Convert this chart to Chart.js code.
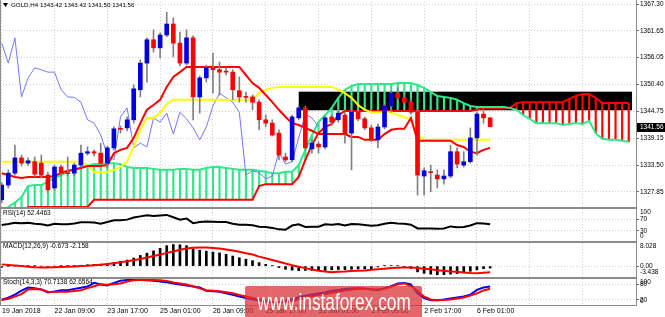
<!DOCTYPE html>
<html lang="en">
<head>
<meta charset="UTF-8">
<title>GOLD,H4</title>
<script src="https://cdn.jsdelivr.net/npm/chart.js"></script>
<style>
    body { margin: 0; background: #fff; }
    #wrap { position: relative; width: 665px; height: 317px; overflow: hidden; font-family: "Liberation Sans", Arial, sans-serif; }
    #wrap canvas { position: absolute; left: 0; top: 0; }
    .ln { position: absolute; background: #8c8c8c; }
    #wm { position: absolute; left: 245px; top: 286px; width: 177px; height: 34px; background: rgba(214, 50, 55, 0.74);
          border-radius: 2px; overflow: hidden; }
    #wm span { position: absolute; left: 50%; top: 2px; color: #fff; font-size: 24px; line-height: 28px; white-space: nowrap;
               transform: translateX(-50%) scaleX(0.72); }
</style>
</head>
<body>
<div id="wrap">
    <canvas id="cMain" width="665" height="317"></canvas>
    <canvas id="cRsi" width="665" height="317"></canvas>
    <canvas id="cMacd" width="665" height="317"></canvas>
    <canvas id="cStoch" width="665" height="317"></canvas>
    <div class="ln" style="left:0;top:0;width:1px;height:306px"></div>
    <div class="ln" style="left:636px;top:0;width:1px;height:306px"></div>
    <div class="ln" style="left:0;top:207px;width:637px;height:2px"></div>
    <div class="ln" style="left:0;top:241px;width:637px;height:2px"></div>
    <div class="ln" style="left:0;top:277px;width:637px;height:2px"></div>
    <div class="ln" style="left:0;top:305px;width:637px;height:1px"></div>
    <div id="wm"><span>www.instaforex.com</span></div>
</div>
<script>
// ---- data (H4 bars, 19 Jan 2018 01:00 .. 6 Feb 2018 09:00) ----
const opens = [1326.2,1329.3,1331.8,1335.0,1333.9,1334.2,1333.9,1331.4,1328.7,1333.1,
    1331.8,1331.8,1333.5,1336.0,1336.3,1336.0,1333.9,1337.1,1341.1,1341.3,
    1343.0,1349.3,1354.9,1359.8,1358.1,1360.8,1363.1,1359.1,1354.9,1360.2,
    1347.8,1351.8,1353.9,1353.5,1353.2,1353.0,1349.1,1347.8,1347.8,1346.7,
    1343.0,1342.3,1340.2,1335.2,1334.6,1343.4,1345.5,1336.9,1337.9,1337.3,
    1343.6,1343.0,1344.0,1340.2,1344.6,1343.2,1341.3,1338.8,1341.5,1345.9,
    1348.6,1347.6,1346.7,1344.6,1331.2,1332.0,1331.4,1330.6,1331.2,1336.3,
    1333.5,1334.2,1339.2,1344.2,1343.42];
const highs = [1329.8,1332.5,1337.7,1335.6,1335.0,1335.2,1335.6,1332.0,1333.5,1333.5,
    1335.2,1333.9,1337.7,1337.3,1336.7,1338.1,1337.5,1341.5,1341.7,1343.6,
    1350.3,1355.6,1360.2,1361.9,1361.2,1365.6,1364.4,1361.4,1361.9,1360.6,
    1352.2,1354.5,1357.0,1355.1,1353.9,1353.5,1352.0,1348.8,1348.2,1347.2,
    1344.0,1343.0,1340.9,1336.0,1344.0,1345.9,1345.9,1338.8,1338.4,1343.8,
    1344.0,1345.1,1344.6,1345.1,1345.1,1343.6,1341.9,1342.1,1346.3,1349.1,
    1349.7,1348.2,1347.4,1345.1,1332.9,1333.5,1332.5,1332.5,1337.7,1337.1,
    1336.3,1341.3,1344.6,1345.3,1343.42];
const lows = [1325.6,1328.7,1331.4,1333.3,1333.5,1331.0,1330.8,1327.7,1328.3,1331.2,
    1331.2,1331.2,1333.1,1335.6,1335.4,1333.5,1332.9,1336.7,1340.2,1340.7,
    1342.3,1347.8,1350.9,1357.2,1356.0,1360.4,1356.2,1354.3,1354.5,1343.0,
    1344.4,1350.9,1348.6,1348.2,1352.4,1347.2,1346.7,1346.7,1345.1,1340.9,
    1341.5,1339.6,1334.6,1334.2,1334.2,1343.0,1336.7,1336.0,1336.0,1336.9,
    1341.9,1342.5,1338.1,1332.5,1342.8,1340.9,1338.4,1337.1,1341.1,1344.6,
    1347.2,1346.3,1344.2,1327.2,1327.2,1327.9,1328.7,1329.5,1330.8,1332.9,
    1333.1,1333.9,1335.6,1342.3,1341.50];
const closes = [1329.3,1331.8,1335.0,1333.9,1334.4,1331.6,1331.4,1328.3,1333.1,1331.8,
    1331.7,1333.5,1336.0,1336.3,1336.0,1333.9,1337.1,1341.1,1341.0,1343.0,
    1349.5,1354.9,1359.8,1358.1,1360.8,1363.1,1359.1,1354.9,1360.2,1347.8,
    1351.8,1353.9,1353.5,1353.0,1353.0,1349.3,1347.8,1347.7,1346.7,1343.0,
    1342.3,1339.8,1335.6,1334.6,1343.6,1345.5,1337.1,1338.1,1337.3,1343.4,
    1342.5,1344.4,1340.0,1344.6,1343.2,1341.3,1338.8,1341.5,1345.9,1348.6,
    1347.6,1346.7,1344.6,1331.4,1332.3,1331.9,1330.6,1331.2,1336.3,1333.7,
    1334.2,1339.2,1344.2,1343.4,1341.56];

// Ichimoku (9,26,52) lines
const tenkan = [1331.8,1331.4,1331.0,1330.8,1331.0,1331.0,1331.0,1331.0,1331.2,1331.8,
    1332.3,1332.5,1332.9,1333.3,1333.3,1333.3,1333.5,1336.0,1336.7,1337.1,
    1339.2,1342.3,1345.1,1346.1,1347.2,1349.9,1352.0,1353.0,1354.1,1354.1,
    1354.1,1354.1,1354.1,1354.1,1354.1,1354.1,1354.1,1352.4,1350.7,1349.7,
    1348.2,1346.7,1345.1,1343.6,1342.3,1341.9,1341.3,1340.7,1340.0,1340.0,
    1340.0,1340.0,1340.0,1339.4,1339.4,1338.8,1338.8,1338.8,1340.0,1340.9,
    1341.1,1341.1,1343.4,1338.6,1338.6,1338.6,1338.6,1338.6,1338.6,1337.7,
    1337.3,1336.3,1336.0,1336.7,1337.1];
const kijun = [1334.2,1334.2,1334.2,1334.2,1334.2,1334.2,1334.2,1334.2,1334.2,1334.2,
    1334.2,1334.2,1334.2,1333.5,1332.0,1332.0,1332.0,1332.5,1333.1,1334.2,
    1337.3,1340.9,1343.4,1343.4,1344.4,1346.3,1347.2,1347.2,1347.2,1347.2,
    1347.2,1347.2,1347.2,1347.2,1347.2,1347.2,1347.2,1347.2,1347.2,1348.6,
    1349.3,1349.7,1349.9,1349.9,1349.9,1349.9,1349.9,1349.9,1349.9,1349.9,
    1349.9,1349.3,1348.6,1347.6,1346.1,1345.1,1344.6,1344.6,1344.6,1344.6,
    1344.0,1343.6,1343.0,1339.8,1338.8,1338.8,1338.8,1338.8,1338.8,1338.8,
    1338.8,1338.8,1338.8,1338.8,1338.8];
const spanA = [1323.7,1324.7,1325.6,1326.8,1329.1,1329.3,1329.3,1330.0,1330.8,1331.4,
    1332.1,1332.5,1333.1,1333.3,1333.7,1333.7,1333.9,1333.9,1333.7,1333.1,
    1332.9,1332.9,1332.9,1332.7,1332.5,1332.5,1332.5,1332.7,1332.7,1332.5,
    1332.5,1332.9,1333.1,1333.1,1332.9,1332.7,1332.5,1332.5,1332.5,1332.3,
    1332.1,1331.8,1331.8,1332.1,1332.1,1333.5,1336.7,1339.8,1342.5,1344.0,
    1345.5,1347.6,1349.3,1350.1,1350.5,1350.5,1350.5,1350.5,1350.5,1350.5,
    1350.7,1350.7,1350.7,1350.3,1349.7,1348.8,1348.0,1347.8,1347.6,1347.2,
    1346.5,1345.9,1345.7,1345.7,1345.7,1345.7,1345.7,1345.5,1345.1,1344.0,
    1343.2,1342.3,1342.3,1342.3,1342.3,1341.9,1342.1,1342.3,1342.1,1342.8,
    1340.2,1339.0,1338.8,1338.8,1338.6,1338.4];
const spanB = [1323.0,1323.0,1323.0,1323.0,1324.7,1324.7,1324.7,1324.7,1324.7,1324.7,
    1324.7,1324.7,1324.7,1324.7,1326.2,1326.2,1326.2,1326.2,1326.2,1326.2,
    1326.2,1326.2,1326.2,1326.2,1326.2,1326.2,1326.2,1326.2,1326.2,1326.2,
    1326.2,1326.2,1326.2,1326.2,1326.2,1326.2,1326.2,1326.2,1326.2,1329.1,
    1329.5,1329.5,1329.5,1329.5,1329.5,1331.0,1334.6,1337.7,1340.2,1341.5,
    1342.1,1344.0,1344.85,1344.85,1344.85,1344.85,1344.85,1344.85,1344.85,1344.85,
    1344.85,1344.85,1344.85,1344.85,1344.85,1344.85,1344.85,1344.85,1344.85,1344.85,
    1344.85,1344.85,1345.1,1345.5,1345.5,1345.5,1345.5,1345.5,1346.5,1346.7,
    1346.7,1346.7,1346.7,1346.7,1346.7,1346.7,1347.4,1348.0,1348.4,1348.4,
    1347.6,1346.5,1346.5,1346.5,1346.5,1346.5];

const rsi = [50,53,57,56,57,54,52,48,54,52, 52,55,59,59,58,54,60,66,66,68,
    75,79,83,80,82,84,76,68,72,56, 60,62,61,60,60,54,51,51,49,44,
    43,40,35,34,48,52,43,44,44,52, 51,53,48,53,52,50,47,49,54,57,
    55,54,51,38,38,38,37,38,45,42, 43,48,56,55,52.4463];
const macdMain = [-0.4,-0.2,0.05,0.1,0.1,0.05,0.0,-0.1,0.0,0.05, 0.1,0.2,0.3,0.5,0.6,0.7,0.9,1.3,1.7,2.1,
    2.8,3.7,4.5,5.3,6.2,7.1,7.5,7.4,7.1,6.0, 5.5,5.2,4.9,4.6,4.1,3.5,2.9,2.4,1.9,1.2,
    0.6,0.1,-0.5,-1.1,-1.4,-1.6,-1.5,-1.5,-1.6,-1.5, -1.3,-1.2,-1.2,-1.1,-1.0,-1.0,-0.9,-0.3,0.1,0.2,
    0.1,-0.2,-0.8,-2.0,-2.5,-2.8,-3.0,-3.0,-2.8,-2.6, -2.3,-1.8,-1.3,-0.9,-0.673];
const macdSignal = [0.6,0.4,0.2,0.0,-0.2,-0.4,-0.45,-0.45,-0.4,-0.3, -0.2,-0.1,0.0,0.1,0.3,0.45,0.7,1.0,1.3,1.7,
    2.0,2.5,3.0,3.5,4.0,4.6,5.1,5.7,6.1,6.4, 6.5,6.5,6.3,6.1,5.8,5.4,5.0,4.5,4.0,3.3,
    2.7,2.1,1.5,0.9,0.3,-0.2,-0.7,-1.2,-1.6,-1.9, -2.1,-2.0,-1.9,-1.7,-1.6,-1.5,-1.3,-1.1,-0.9,-0.7,
    -0.55,-0.45,-0.5,-0.7,-0.9,-1.1,-1.4,-1.6,-1.9,-2.0, -2.2,-2.4,-2.5,-2.35,-2.158];
const stochMain = [20,28,40,55,67,64,60,48,52,57, 57,62,66,71,85,79,75,85,93,96,
    96,96,95,93,90,87,83,79,75,71, 67,55,53,51,45,39,33,27,22,17,
    12,10,12,16,22,30,36,40,44,48, 55,58,62,63,64,63,60,57,65,72,
    83,85,79,45,27,18,18,21,25,29, 33,40,58,67,70.7138];
const stochSignal = [19,24,32,42,60,62,60,51,50,51, 51,54,57,65,72,80,78,80,83,90,
    95,96,96,96,95,92,87,83,79,72, 64,57,55,53,49,45,39,33,27,22,
    17,13,11,12,15,22,28,34,38,42, 46,52,56,60,62,62,61,60,62,70,
    80,83,72,55,32,21,18,19,21,25, 29,36,45,56,62.6564];

const priceTicks = [1367.30, 1361.65, 1356.05, 1350.40, 1344.75, 1339.15, 1333.50, 1327.85];
const dateBars = [0, 8, 16, 24, 32, 40, 48, 56, 64, 72];
const dateLabels = ['19 Jan 2018', '22 Jan 09:00', '23 Jan 17:00', '25 Jan 01:00', '26 Jan 09:00',
    '29 Jan 17:00', '31 Jan 01:00', '1 Feb 09:00', '2 Feb 17:00', '6 Feb 01:00'];
// resistance box drawn on the chart
const zoneFrom = 45, zoneTo = 95.5, zoneTop = 1348.9, zoneBottom = 1345.0;

// ---- styling / layout ----
const H = 317;
const X_MIN = -0.26, X_MAX = 96.1;
const FONT = '6.5px "Liberation Sans", Arial, sans-serif';
const GRID = '#cfcfcf';
const BULL = '#0000e0', BEAR = '#ff0000', WICK = '#808080';
const gridBars = [0, 8, 16, 24, 32, 40, 48, 56, 64, 72, 80, 88];
const idx = a => a.map((v, i) => ({ x: i, y: v }));

function line(data, color, width, order) {
    return { type: 'line', data: data, borderColor: color, borderWidth: width, pointRadius: 0,
             tension: 0, fill: false, order: order };
}

function rightLabels(vals, fmt, topPad, botPad) {
    return {
        id: 'rightLabels',
        afterDraw(chart) {
            const ctx = chart.ctx, ys = chart.scales.y, a = chart.chartArea;
            ctx.save();
            ctx.font = FONT; ctx.fillStyle = '#000'; ctx.textAlign = 'left'; ctx.textBaseline = 'middle';
            vals.forEach(v => {
                let y = ys.getPixelForValue(v);
                y = Math.min(Math.max(y, a.top + topPad), a.bottom - botPad);
                ctx.fillText(fmt(v), 640, y);
            });
            ctx.restore();
        }
    };
}

function caption(text, dy) {
    return {
        id: 'caption',
        afterDraw(chart) {
            const ctx = chart.ctx;
            ctx.save();
            ctx.font = FONT; ctx.fillStyle = '#000'; ctx.textBaseline = 'middle';
            ctx.fillText(text, 3, chart.chartArea.top + dy);
            ctx.restore();
        }
    };
}

function panel(id, top, bottom, yMin, yMax, yGrid, datasets, plugins) {
    return new Chart(document.getElementById(id), {
        type: 'bar',
        data: { datasets: datasets },
        options: {
            responsive: false,
            animation: false,
            events: [],
            layout: { padding: { top: top, bottom: H - bottom, left: 0, right: 0 } },
            plugins: { legend: { display: false }, tooltip: { enabled: false } },
            scales: {
                x: {
                    type: 'linear', bounds: 'data', offset: false, min: X_MIN, max: X_MAX,
                    ticks: { display: false },
                    grid: { color: GRID, drawTicks: false, offset: false },
                    border: { display: false, dash: [1, 2] },
                    afterBuildTicks: s => { s.ticks = gridBars.map(v => ({ value: v })); }
                },
                y: {
                    position: 'right', bounds: 'data', beginAtZero: false, min: yMin, max: yMax,
                    ticks: { display: false },
                    grid: { color: GRID, tickLength: 3, tickColor: '#707070' },
                    border: { display: false, dash: [1, 2] },
                    afterBuildTicks: s => { s.ticks = yGrid.map(v => ({ value: v })); },
                    afterFit: s => { s.width = 29; s.paddingTop = 0; s.paddingBottom = 0; }
                }
            }
        },
        plugins: plugins
    });
}

// ---- main price panel ----
const hatch = spanA.map((a, i) => ({ x: i, y: [a, spanB[i]] }));
const chikou = closes.slice(26).map((c, i) => ({ x: i, y: c }));
const bodies = opens.map((o, i) => ({ x: i, y: [o, closes[i]] }));
const wicks = highs.map((h, i) => ({ x: i, y: [lows[i], h] }));
const candleColor = c => closes[c.dataIndex] >= opens[c.dataIndex] ? BULL : BEAR;

const zonePlugin = {
    id: 'zone',
    beforeDatasetsDraw(chart) {
        const xs = chart.scales.x, ys = chart.scales.y, ctx = chart.ctx;
        const x1 = xs.getPixelForValue(zoneFrom), x2 = xs.getPixelForValue(zoneTo);
        const y1 = ys.getPixelForValue(zoneTop), y2 = ys.getPixelForValue(zoneBottom);
        ctx.save();
        ctx.fillStyle = '#000';
        ctx.fillRect(x1, y1, x2 - x1, y2 - y1);
        ctx.restore();
    }
};
const pricePlugin = {
    id: 'lastPrice',
    afterDraw(chart) {
        const ctx = chart.ctx, ys = chart.scales.y;
        const last = closes[closes.length - 1];
        const y = ys.getPixelForValue(last);
        ctx.save();
        ctx.fillStyle = '#000';
        ctx.fillRect(637, Math.round(y) - 4, 28, 9);
        ctx.font = FONT; ctx.fillStyle = '#fff'; ctx.textBaseline = 'middle';
        ctx.fillText(last.toFixed(2), 640, Math.round(y) + 0.5);
        // title line
        ctx.fillStyle = '#000';
        ctx.beginPath(); ctx.moveTo(3, 3); ctx.lineTo(8, 3); ctx.lineTo(5.5, 7); ctx.closePath(); ctx.fill();
        ctx.font = '6.2px "Liberation Sans", Arial, sans-serif';
        ctx.fillText('GOLD,H4 1343.42 1343.42 1341.50 1341.56', 11, 5.5);
        ctx.restore();
    }
};

panel('cMain', 2, 207, 1324.70, 1367.72, priceTicks, [
    { type: 'bar', data: bodies, backgroundColor: candleColor, barThickness: 4, grouped: false,
      minBarLength: 1, borderWidth: 0, order: 1 },
    { type: 'bar', data: wicks, backgroundColor: WICK, barThickness: 1, grouped: false, order: 2 },
    line(idx(tenkan), '#ff0000', 2, 3),
    line(idx(kijun), '#ffff00', 2, 4),
    line(chikou, '#7575ff', 1, 5),
    line(idx(spanA), '#2ee88a', 2, 6),
    line(idx(spanB), '#ff0000', 2, 7),
    { type: 'bar', data: hatch, barThickness: 1.5, grouped: false, borderWidth: 0, order: 8,
      backgroundColor: c => spanA[c.dataIndex] >= spanB[c.dataIndex] ? '#2ee88a' : '#ff0000' }
], [zonePlugin, rightLabels(priceTicks, v => v.toFixed(2), 2, 2), pricePlugin]);

// ---- RSI ----
panel('cRsi', 209, 240, -1, 104, [70, 30], [
    line(idx(rsi), '#000', 2, 1)
], [rightLabels([100, 70, 30, 0], v => String(v), 3, 4), caption('RSI(14) 52.4463', 4)]);

// ---- MACD ----
panel('cMacd', 243, 276, -3.438, 8.028, [0], [
    line(idx(macdSignal), '#ff0000', 2, 1),
    { type: 'bar', data: idx(macdMain), backgroundColor: '#000', barThickness: 2, grouped: false, order: 2 }
], [rightLabels([8.028, 0, -3.438], v => v === 0 ? '0.00' : v.toFixed(3), 3, 4),
    caption('MACD(12,26,9) -0.673 -2.158', 3)]);

// ---- Stochastic ----
const datePlugin = {
    id: 'dates',
    afterDraw(chart) {
        const ctx = chart.ctx, xs = chart.scales.x;
        ctx.save();
        ctx.font = '7px "Liberation Sans", Arial, sans-serif';
        ctx.fillStyle = '#000'; ctx.textAlign = 'left'; ctx.textBaseline = 'middle';
        dateBars.forEach((b, i) => {
            const x = xs.getPixelForValue(b);
            ctx.fillText(dateLabels[i], Math.max(x, 2), 311.5);
        });
        ctx.restore();
    }
};
panel('cStoch', 279, 305, 0, 100, [80, 20], [
    line(idx(stochMain), '#0000ff', 2, 2),
    line(idx(stochSignal), '#ff0000', 2, 1)
], [rightLabels([100, 80, 20, 0], v => String(v), 3, 4),
    caption('Stoch(14,3,3) 70.7138 62.6564', 3), datePlugin]);
</script>
</body>
</html>
